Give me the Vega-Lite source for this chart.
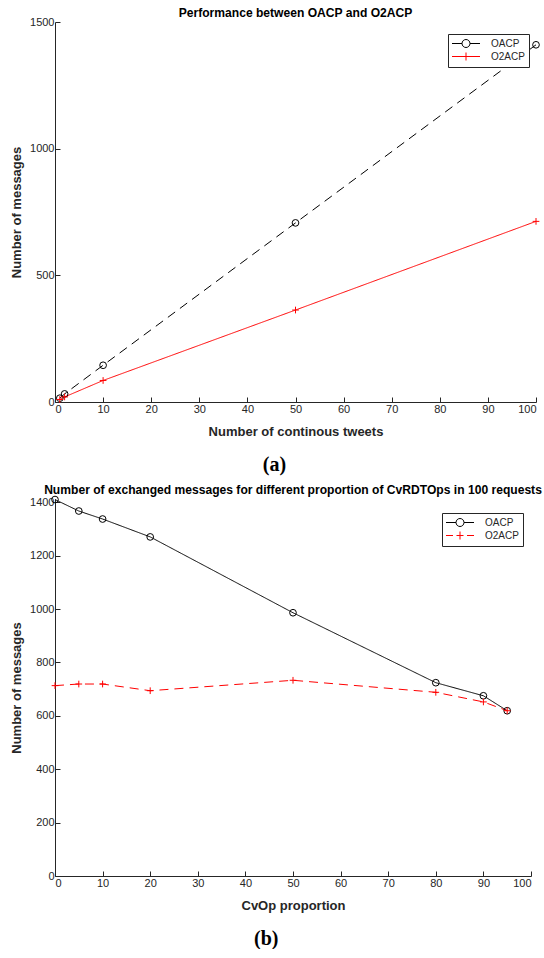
{
  "$schema": "https://vega.github.io/schema/vega-lite/v6.json",
  "background": "white",
  "padding": {"left": 10, "top": 6, "right": 0, "bottom": 0},
  "config": {
    "view": {"stroke": null},
    "font": "Liberation Sans",
    "axis": {
      "domainColor": "#262626", "tickColor": "#262626", "labelColor": "#262626", "titleColor": "#262626",
      "labelFont": "Liberation Sans", "labelFontSize": 11, "titleFont": "Liberation Sans", "titleFontSize": 13, "titleFontWeight": "bold",
      "tickSize": -5, "grid": false, "labelPadding": 6, "domainWidth": 1, "tickWidth": 1, "format": "d"
    },
    "axisY": {"titlePadding": 6},
    "axisX": {"titlePadding": 11},
    "legend": {
      "title": null, "orient": "none", "strokeColor": "#262626", "fillColor": "white", "padding": 4,
      "labelFont": "Liberation Sans", "labelFontSize": 10, "labelColor": "#262626", "labelOffset": 28,
      "symbolSize": 100, "symbolStrokeWidth": 1, "symbolOpacity": 1, "symbolFillColor": "transparent", "rowPadding": 0
    },
    "title": {"font": "Liberation Sans", "fontSize": 12.1, "fontWeight": "bold", "color": "#000000"},
    "concat": {"spacing": 9}
  },
  "datasets": {
    "a": [
      {"series": "OACP", "x": 1, "y": 15},
      {"series": "OACP", "x": 2, "y": 32},
      {"series": "OACP", "x": 10, "y": 145},
      {"series": "OACP", "x": 50, "y": 707},
      {"series": "OACP", "x": 100, "y": 1410},
      {"series": "O2ACP", "x": 1, "y": 10},
      {"series": "O2ACP", "x": 2, "y": 20},
      {"series": "O2ACP", "x": 10, "y": 85},
      {"series": "O2ACP", "x": 50, "y": 363},
      {"series": "O2ACP", "x": 100, "y": 713}
    ],
    "b": [
      {"series": "OACP", "x": 0, "y": 1410},
      {"series": "OACP", "x": 5, "y": 1367},
      {"series": "OACP", "x": 10, "y": 1337},
      {"series": "OACP", "x": 20, "y": 1270},
      {"series": "OACP", "x": 50, "y": 986},
      {"series": "OACP", "x": 80, "y": 724},
      {"series": "OACP", "x": 90, "y": 675},
      {"series": "OACP", "x": 95, "y": 619},
      {"series": "O2ACP", "x": 0, "y": 713},
      {"series": "O2ACP", "x": 5, "y": 719},
      {"series": "O2ACP", "x": 10, "y": 719},
      {"series": "O2ACP", "x": 20, "y": 694},
      {"series": "O2ACP", "x": 50, "y": 733},
      {"series": "O2ACP", "x": 80, "y": 688},
      {"series": "O2ACP", "x": 90, "y": 652},
      {"series": "O2ACP", "x": 95, "y": 619}
    ]
  },
  "resolve": {"scale": {"strokeDash": "independent", "shape": "independent", "color": "independent", "x": "independent", "y": "independent"}},
  "vconcat": [
    {
      "title": {"text": "(a)", "orient": "bottom", "anchor": "middle", "font": "Liberation Serif", "fontSize": 20, "fontWeight": "bold", "color": "#000000", "offset": 17, "dx": -10},
      "resolve": {"scale": {"strokeDash": "independent", "shape": "independent", "color": "independent"}},
      "vconcat": [
        {
          "width": 481, "height": 380,
          "title": {"text": "Performance between OACP and O2ACP", "offset": -3},
          "data": {"name": "a"},
          "encoding": {
            "x": {"field": "x", "type": "quantitative", "scale": {"domain": [0, 100], "nice": false}, "axis": {"title": "Number of continous tweets", "values": [0, 10, 20, 30, 40, 50, 60, 70, 80, 90, 100]}},
            "y": {"field": "y", "type": "quantitative", "scale": {"domain": [0, 1500], "nice": false}, "axis": {"title": "Number of messages", "values": [0, 500, 1000, 1500]}}
          },
          "layer": [
            {
              "mark": {"type": "line", "strokeWidth": 1},
              "encoding": {
                "color": {"field": "series", "type": "nominal", "scale": {"domain": ["OACP", "O2ACP"], "range": ["#000000", "#ff0000"]}, "legend": null},
                "strokeDash": {"field": "series", "type": "nominal", "scale": {"domain": ["OACP", "O2ACP"], "range": [[9, 6], [1, 0]]}, "legend": null}
              }
            },
            {
              "mark": {"type": "point", "filled": false, "strokeWidth": 1, "size": 45, "opacity": 1},
              "encoding": {
                "color": {"field": "series", "type": "nominal", "scale": {"domain": ["OACP", "O2ACP"], "range": ["#000000", "#ff0000"]}, "legend": null},
                "shape": {"field": "series", "type": "nominal", "scale": {"domain": ["OACP", "O2ACP"], "range": ["circle", "M-1,0H1M0,-1V1"]}, "legend": null}
              }
            },
            {
              "mark": {"type": "point", "filled": false, "strokeWidth": 1, "size": 100, "opacity": 0},
              "encoding": {
                "color": {"field": "series", "type": "nominal", "scale": {"domain": ["OACP", "O2ACP"], "range": ["#000000", "#ff0000"]},
                  "legend": {"orient": "none", "legendX": 393, "legendY": 12}},
                "shape": {"field": "series", "type": "nominal",
                  "scale": {"domain": ["OACP", "O2ACP"], "range": ["M-1.1,0H0.9M2.5,0H4.5M2.5,0A0.8,0.8 0 1,1 0.9,0A0.8,0.8 0 1,1 2.5,0", "M-1.1,0H4.5M1.7,-0.8V0.8"]},
                  "legend": {"orient": "none", "legendX": 393, "legendY": 12}
                }
              }
            }
          ],
          "resolve": {"scale": {"shape": "independent", "color": "independent"}}
        }
      ]
    },
    {
      "title": {"text": "(b)", "orient": "bottom", "anchor": "middle", "font": "Liberation Serif", "fontSize": 20, "fontWeight": "bold", "color": "#000000", "offset": 17, "dx": -10},
      "resolve": {"scale": {"strokeDash": "independent", "shape": "independent", "color": "independent"}},
      "vconcat": [
        {
          "width": 476, "height": 377,
          "title": {"text": "Number of exchanged messages for different proportion of CvRDTOps in 100 requests", "offset": -2},
          "data": {"name": "b"},
          "encoding": {
            "x": {"field": "x", "type": "quantitative", "scale": {"domain": [0, 100], "nice": false}, "axis": {"title": "CvOp proportion", "values": [0, 10, 20, 30, 40, 50, 60, 70, 80, 90, 100]}},
            "y": {"field": "y", "type": "quantitative", "scale": {"domain": [0, 1412], "nice": false}, "axis": {"title": "Number of messages", "values": [0, 200, 400, 600, 800, 1000, 1200, 1400]}}
          },
          "layer": [
            {
              "mark": {"type": "line", "strokeWidth": 1},
              "encoding": {
                "color": {"field": "series", "type": "nominal", "scale": {"domain": ["OACP", "O2ACP"], "range": ["#000000", "#ff0000"]}, "legend": null},
                "strokeDash": {"field": "series", "type": "nominal", "scale": {"domain": ["OACP", "O2ACP"], "range": [[1, 0], [9, 6]]}, "legend": null}
              }
            },
            {
              "mark": {"type": "point", "filled": false, "strokeWidth": 1, "size": 45, "opacity": 1},
              "encoding": {
                "color": {"field": "series", "type": "nominal", "scale": {"domain": ["OACP", "O2ACP"], "range": ["#000000", "#ff0000"]}, "legend": null},
                "shape": {"field": "series", "type": "nominal", "scale": {"domain": ["OACP", "O2ACP"], "range": ["circle", "M-1,0H1M0,-1V1"]}, "legend": null}
              }
            },
            {
              "mark": {"type": "point", "filled": false, "strokeWidth": 1, "size": 100, "opacity": 0},
              "encoding": {
                "color": {"field": "series", "type": "nominal", "scale": {"domain": ["OACP", "O2ACP"], "range": ["#000000", "#ff0000"]},
                  "legend": {"orient": "none", "legendX": 387, "legendY": 14}},
                "shape": {"field": "series", "type": "nominal",
                  "scale": {"domain": ["OACP", "O2ACP"], "range": ["M-1.1,0H0.9M2.5,0H4.5M2.5,0A0.8,0.8 0 1,1 0.9,0A0.8,0.8 0 1,1 2.5,0", "M-1.1,0H0.3M3.1,0H4.5M1.7,-0.8V0.8M1,0H2.4"]},
                  "legend": {"orient": "none", "legendX": 387, "legendY": 14}
                }
              }
            }
          ],
          "resolve": {"scale": {"shape": "independent", "color": "independent"}}
        }
      ]
    }
  ]
}
